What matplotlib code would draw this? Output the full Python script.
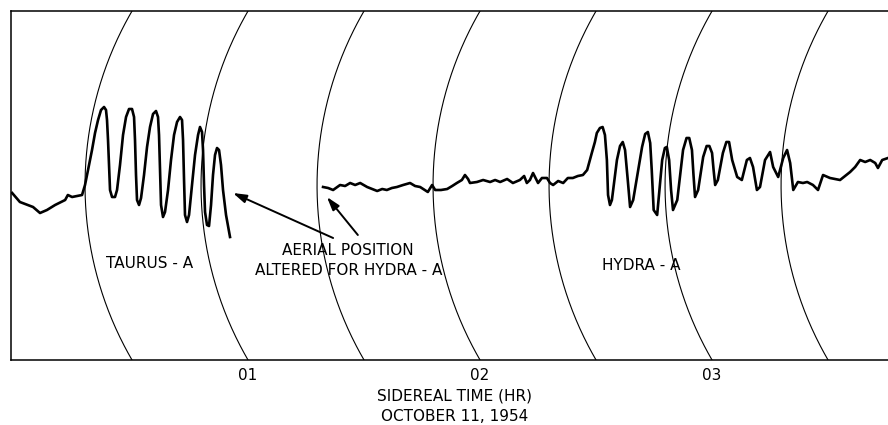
import numpy as np
import matplotlib
matplotlib.use("Agg")
import matplotlib.pyplot as plt

# sidereal time in minutes after 00h, pen deflection in chart units
taurus_t = [-1.0, 1.0, 4.4, 6.2, 8.0, 10.1, 12.7, 13.4, 14.5,
            17.07, 17.84, 18.62, 19.65, 20.43, 21.21, 21.98, 22.76, 23.27, 23.53,
            23.79, 24.05, 24.31, 24.83, 25.60, 26.12, 26.89, 27.67, 28.45, 29.22,
            30.00, 30.52, 30.77, 31.03, 31.29, 31.81, 32.33, 33.10, 33.88, 34.65,
            35.43, 36.20, 36.72, 36.98, 37.24, 37.50, 38.01, 38.53, 39.31, 40.08,
            40.86, 41.64, 42.41, 42.93, 43.19, 43.45, 43.70, 44.22, 44.74, 45.51,
            46.29, 47.07, 47.58, 48.10, 48.36, 48.62, 48.88, 49.39, 49.91, 50.43,
            50.94, 51.46, 51.98, 52.50, 53.01, 53.53, 54.31, 55.34]
taurus_d = [167, 158, 153, 147, 150, 155, 160, 165, 163,
            165, 175, 190, 210, 227, 240, 250, 253, 250, 240,
            220, 195, 170, 163, 163, 170, 195, 225, 243, 251,
            251, 243, 220, 185, 160, 155, 162, 185, 213, 233,
            246, 249, 243, 225, 190, 155, 143, 148, 170, 200,
            225, 238, 243, 240, 220, 180, 145, 138, 145, 175,
            205, 225, 233, 228, 210, 175, 148, 135, 134, 155,
            185, 205, 212, 210, 195, 170, 145, 123]

hydra_t = [79.4, 80.7, 82.0, 83.8, 85.1, 86.4, 87.7, 89.0, 90.8, 92.1,
           93.4, 94.7, 95.9, 97.2, 98.5, 100.1, 101.9, 103.2, 104.5, 106.5,
           107.6, 108.4, 109.9, 111.5, 112.8, 114.0, 115.3, 116.1, 116.9, 117.4,
           119.2, 120.8, 122.6, 123.9, 125.2, 127.0, 128.5, 130.3, 131.4, 132.1,
           132.9, 133.7, 135.0, 136.0, 137.3, 138.1, 138.9, 140.2, 141.5, 142.7,
           144.0, 145.3, 146.6, 147.7, 148.4, 148.9, 149.7, 150.2, 151.0, 151.7,
           152.3, 152.8, 153.1, 153.6, 154.1, 155.4, 156.2, 156.9, 157.5, 158.2,
           158.8, 159.6, 161.9, 162.7, 163.4, 164.0, 164.4, 164.9, 165.8, 167.1,
           167.8, 168.3, 168.9, 169.4, 169.9, 171.0, 172.5, 173.4, 174.1, 174.8,
           175.2, 175.6, 176.4, 177.7, 178.6, 179.3, 180.0, 180.4, 180.8, 181.5,
           182.8, 183.7, 184.4, 185.2, 186.5, 187.7, 189.0, 189.8, 190.6, 191.6,
           192.4, 193.7, 195.0, 195.8, 197.1, 198.4, 199.4, 200.2, 201.0, 202.2,
           203.5, 204.6, 206.1, 207.4, 208.7, 210.5, 211.8, 213.1, 215.7, 217.0,
           218.3, 219.6, 220.9, 222.2, 222.9, 224.0, 225.5]
hydra_d = [173, 172, 170, 175, 174, 177, 175, 177, 173, 171,
           169, 171, 170, 172, 173, 175, 177, 174, 173, 168,
           175, 170, 170, 171, 174, 177, 180, 185, 181, 177,
           178, 180, 178, 180, 178, 181, 177, 180, 184, 177,
           180, 187, 177, 182, 182, 177, 175, 179, 177, 182,
           182, 184, 185, 190, 200, 207, 218, 227, 232, 233,
           225, 200, 165, 155, 160, 200, 214, 218, 210, 180,
           153, 160, 213, 226, 228, 217, 190, 150, 145, 200,
           212, 213, 200, 170, 150, 160, 210, 222, 222, 210,
           185, 163, 170, 203, 214, 214, 207, 190, 175, 180,
           207, 218, 218, 200, 183, 180, 200, 202, 193, 170,
           173, 200, 208, 193, 183, 202, 210, 197, 170, 178,
           177, 178, 175, 170, 185, 182, 181, 180, 188, 193,
           200, 198, 200, 197, 192, 200, 202]

hour_ticks = [60, 120, 180]
hour_labels = ["01", "02", "03"]
grid_arcs = [30, 60, 90, 120, 150, 180, 210]

labels = ["TAURUS - A", "AERIAL POSITION\nALTERED FOR HYDRA - A", "HYDRA - A"]
label_t = [34.5, 85.9, 161.8]
label_d = [97, 99.5, 94]

arrow_tail_t = [82.0, 88.4]
arrow_tail_d = [122, 125]
arrow_head_t = [56.1, 80.4]
arrow_head_d = [167, 163]

x_min, x_max = -1.3, 225.5
y_min, y_max = 0, 349

plt.rcParams['font.family'] = ['DejaVu Sans']

fig = plt.figure(figsize=(8.88, 4.25), dpi=100)
ax = fig.add_axes([11 / 888, 65 / 425, 877 / 888, 349 / 425])
ax.set_xlim(x_min, x_max)
ax.set_ylim(y_min, y_max)

# curved chart-paper lines (circle arcs bulging to the left)
px_per_min = 877 / (x_max - x_min)
sag = 47.0
half = (y_max - y_min) / 2
R = (half ** 2 + sag ** 2) / (2 * sag)
yy = np.linspace(y_min, y_max, 200)
dx = ((R - sag) - np.sqrt(R ** 2 - (yy - half) ** 2)) / px_per_min
for t0 in grid_arcs:
    ax.plot(t0 + dx, yy, color="black", linewidth=0.8, zorder=1)

ax.plot(taurus_t, taurus_d, color="black", linewidth=1.9,
        solid_joinstyle="round", zorder=3)
ax.plot(hydra_t, hydra_d, color="black", linewidth=1.9,
        solid_joinstyle="round", zorder=3)

for txt, t, d in zip(labels, label_t, label_d):
    ax.text(t, d, txt, ha="center", va="center", fontsize=11,
            linespacing=1.45, zorder=4)

for tt, td, ht, hd in zip(arrow_tail_t, arrow_tail_d, arrow_head_t, arrow_head_d):
    ax.annotate("", xy=(ht, hd), xytext=(tt, td),
                arrowprops=dict(arrowstyle="-|>,head_length=0.8,head_width=0.25",
                                color="black", linewidth=1.4,
                                shrinkA=0, shrinkB=0))

ax.set_xticks(hour_ticks)
ax.set_xticklabels(hour_labels, fontsize=11)
ax.set_yticks([])
ax.tick_params(axis="x", length=0, pad=6)
ax.spines["right"].set_visible(False)
for s in ["left", "top", "bottom"]:
    ax.spines[s].set_linewidth(1.1)

ax.set_xlabel("SIDEREAL TIME (HR)\nOCTOBER 11, 1954", fontsize=11,
              linespacing=1.45)
ax.xaxis.set_label_coords(0.506, -0.083)
ax.xaxis.label.set_va("top")

fig.savefig("out.png", dpi=100)
